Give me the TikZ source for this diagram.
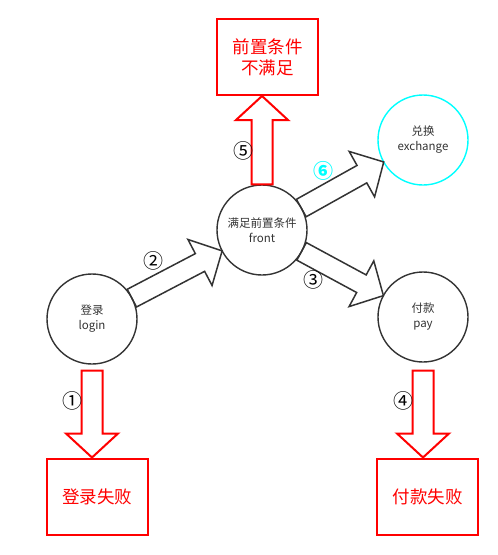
\documentclass[tikz,border=0pt]{standalone}
\usepackage{fontspec}
\setmainfont{Noto Sans CJK SC}
\usetikzlibrary{calc}
\definecolor{dk}{HTML}{333333}
\definecolor{rd}{HTML}{FF0000}
\definecolor{cy}{HTML}{00FFFF}
\newcommand\blockarr[6]{%
  \coordinate (bas) at (#2);
  \coordinate (bae) at (#3);
  \coordinate (bah) at ($(bae)!#6!(bas)$);
  \draw[#1] ($(bas)!#4!90:(bae)$) -- ($(bah)!#4!90:(bae)$) -- ($(bah)!#5!90:(bae)$)
    -- (bae) -- ($(bah)!#5!-90:(bae)$) -- ($(bah)!#4!-90:(bae)$) -- ($(bas)!#4!-90:(bae)$) -- cycle;
}
\tikzset{
  cnode/.style={circle, draw=dk, line width=1.4pt, minimum size=90pt, inner sep=0pt,
    align=center, text=dk, font=\fontsize{11.5}{15}\selectfont},
  rnode/.style={rectangle, draw=rd, line width=2pt, minimum width=101pt, minimum height=76pt,
    inner sep=0pt, align=center, text=rd, font=\fontsize{17.5}{21}\selectfont},
  lab/.style={inner sep=0pt, text=black, font=\fontsize{20}{20}\selectfont},
  darr/.style={draw=dk, line width=1.5pt},
  rarr/.style={draw=rd, line width=2pt},
}
\begin{document}
\begin{tikzpicture}[x=1pt, y=-1pt]
\useasboundingbox (0,0) rectangle (498,555);
\node[cnode] (login) at (92,319) {登录\\login};
\node[cnode] (front) at (262,230) {满足前置条件\\front};
\node[cnode, draw=cy] (exch) at (423,140) {兑换\\exchange};
\node[cnode] (pay) at (423,317) {付款\\pay};
\node[rnode] (pre) at (267.5,57) {前置条件\\不满足};
\node[rnode] (lfail) at (97.5,496.5) {登录失败};
\node[rnode] (pfail) at (427.5,496.5) {付款失败};

\blockarr{darr}{$(login)!45pt!(front)$}{$(front)!45pt!(login)$}{10pt}{26pt}{25pt}
\blockarr{darr}{$(front)!45pt!(exch)$}{$(exch)!45pt!(front)$}{10pt}{26pt}{25pt}
\blockarr{darr}{$(front)!45pt!(pay)$}{$(pay)!45pt!(front)$}{10pt}{26pt}{25pt}

\coordinate (r1s) at ($(login.south)+(0,6)$);
\coordinate (r1e) at (login.south |- lfail.north);
\blockarr{rarr}{r1s}{r1e}{10.5pt}{26pt}{24pt}
\coordinate (r4s) at ($(pay.south)+(0,8)$);
\coordinate (r4e) at (pay.south |- pfail.north);
\blockarr{rarr}{r4s}{r4e}{10.5pt}{26pt}{24pt}
\coordinate (r5s) at (front.north);
\coordinate (r5e) at (front.north |- pre.south);
\blockarr{rarr}{r5s}{r5e}{10.5pt}{26pt}{24pt}

\node[lab] (n1) at (73,401) {①};
\node[lab] (n2) at (153,261) {②};
\node[lab] (n3) at (313,280) {③};
\node[lab] (n4) at (403,401) {④};
\node[lab] (n5) at (243,151) {⑤};
\node[lab, text=cy, font=\fontsize{20}{20}\selectfont\bfseries] (n6) at (323,171) {⑥};
\end{tikzpicture}
\end{document}
